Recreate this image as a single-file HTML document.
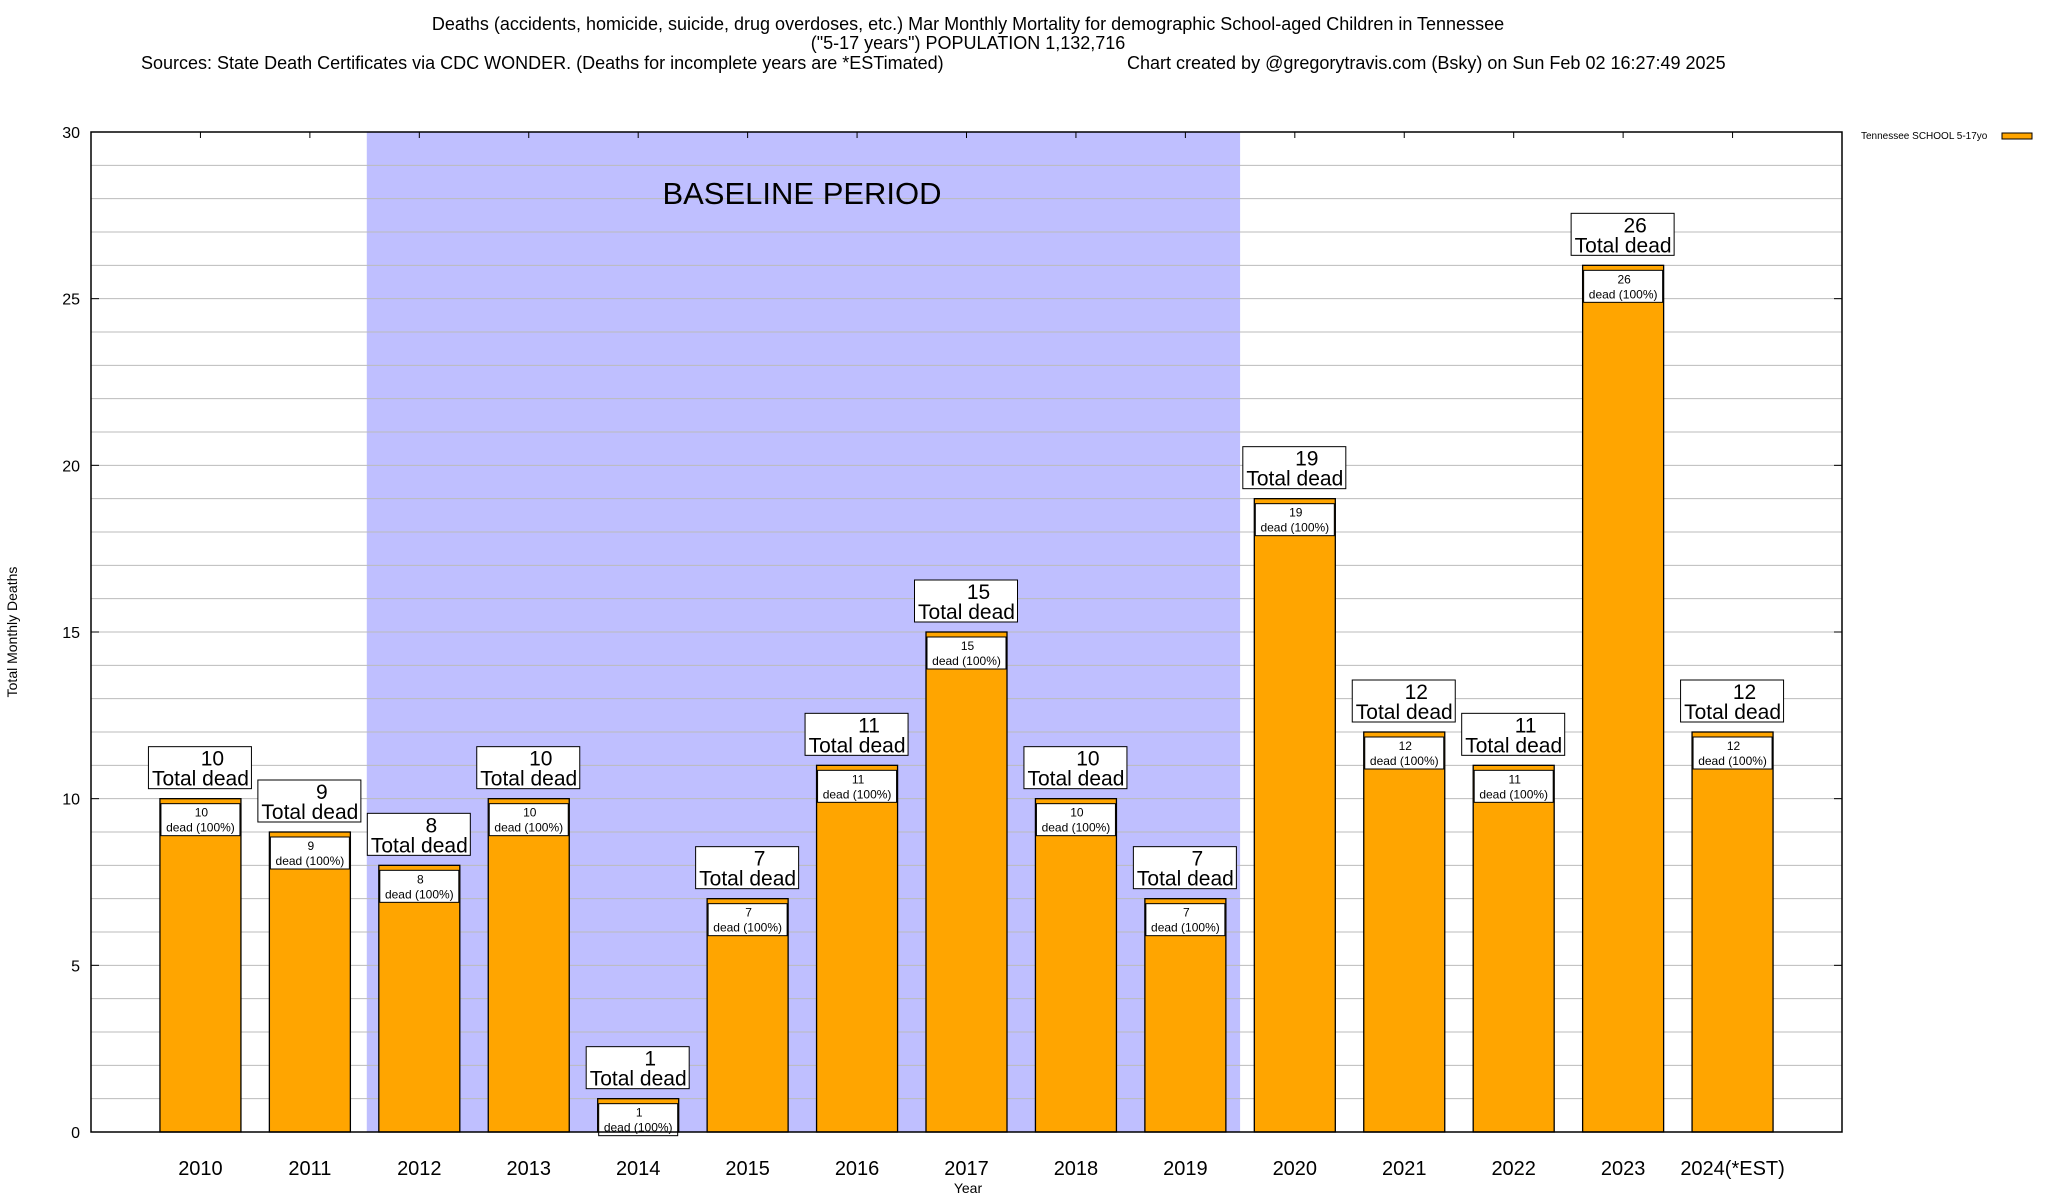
<!DOCTYPE html>
<html><head><meta charset="utf-8"><style>
body{margin:0;background:#fff}
svg{display:block;font-family:"Liberation Sans",sans-serif}
</style></head><body>
<svg id="c" width="2048" height="1200" viewBox="0 0 2048 1200">
<g>
<text x="968" y="30" font-size="18" text-anchor="middle">Deaths (accidents, homicide, suicide, drug overdoses, etc.) Mar Monthly Mortality for demographic School-aged Children in Tennessee</text>
<text x="968" y="49" font-size="18" text-anchor="middle">("5-17 years") POPULATION 1,132,716</text>
<text x="141" y="69" font-size="18">Sources: State Death Certificates via CDC WONDER. (Deaths for incomplete years are *ESTimated)</text>
<text x="1127" y="69" font-size="18">Chart created by @gregorytravis.com (Bsky) on Sun Feb 02 16:27:49 2025</text>
</g>
<g id="plot"></g>
<text x="17" y="632" font-size="14" text-anchor="middle" transform="rotate(-90 17 632)">Total Monthly Deaths</text>
<text x="968" y="1193" font-size="14" text-anchor="middle">Year</text>
<g>
<text x="1861" y="139" font-size="10">Tennessee SCHOOL 5-17yo</text>
<rect x="2002" y="133" width="30" height="6" fill="#ffa500" stroke="#000"/>
</g>
</svg>
<script>
const categories=["2010","2011","2012","2013","2014","2015","2016","2017","2018","2019","2020","2021","2022","2023","2024(*EST)"];
const deaths=[10,9,8,10,1,7,11,15,10,7,19,12,11,26,12];
const yTicks=[0,5,10,15,20,25,30];
const baseline=[1.52,9.5];
const NS="http://www.w3.org/2000/svg";
const L=91,R=1842,T=132,B=1132;
const x=i=>L+(i+1)*(R-L)/16;
const y=v=>B-v*(B-T)/30;
const g=document.getElementById('plot');
function el(t,a,p){const e=document.createElementNS(NS,t);for(const k in a)e.setAttribute(k,a[k]);(p||g).appendChild(e);return e;}
const bw=81;
let sh=el('rect',{x:x(baseline[0]),y:T,width:x(baseline[1])-x(baseline[0]),height:B-T,fill:'#bfbfff'});


for(let v=1;v<30;v++){let l=el('line',{x1:L,x2:R,y1:y(v),y2:y(v),stroke:'#bbb','stroke-width':1});

}
let bt=el('text',{x:802,y:204,'font-size':31,'text-anchor':'middle'});bt.textContent='BASELINE PERIOD';


yTicks.forEach(v=>{let t=el('text',{x:80,y:y(v)+6,'font-size':16,'text-anchor':'end'});t.textContent=v;


el('line',{x1:L,x2:L+8,y1:y(v),y2:y(v),stroke:'#000'});el('line',{x1:R,x2:R-8,y1:y(v),y2:y(v),stroke:'#000'});});
categories.forEach((c,i)=>{
const cx=x(i),v=deaths[i],top=y(v);
el('line',{x1:cx,x2:cx,y1:T,y2:T+6,stroke:'#000'});
let b=el('rect',{x:cx-bw/2,y:top,width:bw,height:B-top,fill:'#ffa500',stroke:'#000','stroke-width':1.3});


let ib=el('rect',{x:cx-bw/2+1,y:top+5,width:bw-2,height:32,fill:'#fff',stroke:'#000'});


let t1=el('text',{x:cx+1,y:top+18,'font-size':12,'text-anchor':'middle'});t1.textContent=v;
let t2=el('text',{x:cx,y:top+33,'font-size':12,'text-anchor':'middle'});t2.textContent='dead (100%)';
let ob=el('rect',{x:cx-52,y:top-52,width:103,height:42,fill:'#fff',stroke:'#000'});


let t3=el('text',{x:cx+12,y:top-33,'font-size':21,'text-anchor':'middle'});t3.textContent=v;
let t4=el('text',{x:cx,y:top-13,'font-size':21,'text-anchor':'middle'});t4.textContent='Total dead';
let xl=el('text',{x:cx,y:1175,'font-size':20,'text-anchor':'middle'});xl.textContent=c;


});
let ax=el('rect',{x:L,y:T,width:R-L,height:B-T,fill:'none',stroke:'#000','stroke-width':1.5});


</script>
</body></html>
